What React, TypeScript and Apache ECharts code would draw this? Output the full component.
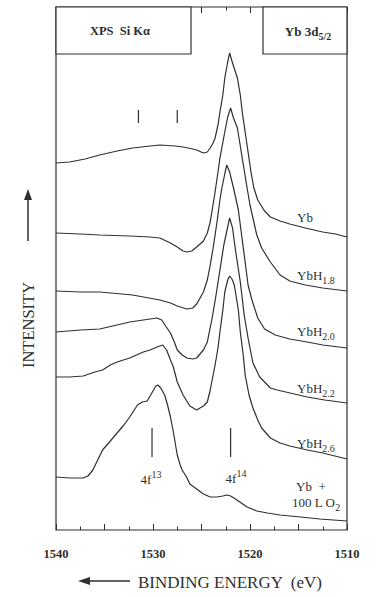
import React, { useEffect, useRef } from 'react';
import * as echarts from 'echarts';

// Binding energy (eV) vs. intensity (arb. units, offset spectra)
const ybSpectrum: [number, number][] = [
  [1540.0, 367], [1538.6, 368], [1537.0, 371], [1535.5, 375], [1533.7, 379], [1532.1, 382],
  [1530.3, 384], [1529.3, 385], [1527.7, 384], [1526.9, 383], [1525.9, 381], [1525.5, 380],
  [1524.8, 377], [1524.4, 378], [1524.1, 382], [1523.8, 387], [1523.6, 392], [1523.3, 405],
  [1523.1, 418], [1522.8, 435], [1522.6, 452], [1522.3, 468], [1522.1, 477], [1521.8, 467],
  [1521.3, 452], [1521.0, 435], [1520.8, 418], [1520.5, 398], [1520.2, 378], [1519.9, 358],
  [1519.6, 342], [1519.2, 330], [1518.5, 319], [1517.9, 313], [1516.9, 309], [1515.9, 306],
  [1514.3, 302], [1512.5, 298], [1511.2, 296], [1510.0, 293],
];
const ybH18Spectrum: [number, number][] = [
  [1540.0, 297], [1537.5, 296], [1535.5, 295], [1532.4, 294], [1530.3, 293], [1529.3, 292],
  [1528.2, 287], [1527.5, 283], [1526.9, 279], [1526.5, 278], [1526.0, 279], [1525.5, 283],
  [1524.8, 289], [1524.4, 297], [1524.1, 308], [1523.6, 338], [1523.3, 358], [1523.1, 372],
  [1522.6, 398], [1522.3, 413], [1522.0, 422], [1521.7, 412], [1521.3, 402], [1520.8, 372],
  [1520.3, 342], [1520.0, 325], [1519.7, 312], [1519.3, 295], [1518.8, 282], [1517.9, 268],
  [1516.9, 255], [1515.9, 249], [1514.3, 245], [1512.5, 242], [1510.0, 239],
];
const ybH20Spectrum: [number, number][] = [
  [1540.0, 239], [1537.5, 238], [1535.5, 238], [1532.1, 235], [1529.3, 230], [1528.2, 227],
  [1527.5, 224], [1526.5, 221], [1525.9, 222], [1525.5, 226], [1524.8, 238], [1524.4, 250],
  [1524.1, 265], [1523.8, 282], [1523.4, 308], [1523.1, 330], [1522.9, 342], [1522.6, 356],
  [1522.4, 365], [1522.1, 358], [1521.7, 342], [1521.2, 320], [1520.8, 290], [1520.5, 268],
  [1520.2, 245], [1519.8, 230], [1519.2, 212], [1518.5, 201], [1517.4, 195], [1515.9, 191],
  [1514.1, 188], [1512.5, 185], [1510.0, 182],
];
const ybH22Spectrum: [number, number][] = [
  [1540.0, 198], [1537.5, 200], [1535.5, 201], [1533.7, 205], [1532.4, 208], [1531.0, 210],
  [1529.6, 212], [1529.1, 210], [1528.7, 204], [1528.2, 197], [1527.8, 188], [1527.5, 180],
  [1527.0, 175], [1526.5, 172], [1525.9, 171], [1525.5, 172], [1524.8, 180], [1524.4, 188],
  [1523.9, 212], [1523.5, 235], [1523.1, 260], [1522.7, 285], [1522.1, 312], [1521.8, 302],
  [1521.5, 280], [1521.0, 248], [1520.6, 215], [1520.2, 192], [1519.7, 167], [1519.0, 153],
  [1517.9, 142], [1517.2, 140], [1514.1, 133], [1512.3, 130], [1510.0, 127],
];
const ybH26Spectrum: [number, number][] = [
  [1540.0, 153], [1538.6, 153], [1537.2, 154], [1536.0, 158], [1535.2, 160], [1534.4, 165],
  [1533.7, 168], [1532.4, 172], [1531.0, 178], [1530.3, 180], [1529.6, 183], [1529.0, 185],
  [1528.6, 180], [1528.2, 170], [1527.9, 163], [1527.5, 148], [1526.9, 135], [1526.2, 124],
  [1525.5, 120], [1524.8, 124], [1524.4, 128], [1524.1, 140], [1523.8, 155], [1523.6, 165],
  [1523.3, 182], [1523.1, 198], [1522.8, 220], [1522.6, 238], [1522.3, 250], [1522.1, 254],
  [1521.8, 250], [1521.6, 244], [1521.2, 220], [1521.0, 198], [1520.7, 175], [1520.5, 155],
  [1520.1, 135], [1519.7, 122], [1519.2, 110], [1518.8, 102], [1517.9, 92], [1516.9, 87],
  [1515.9, 84], [1514.1, 80], [1512.5, 77], [1510.0, 71],
];
const ybO2Spectrum: [number, number][] = [
  [1540.0, 53], [1538.6, 52], [1537.2, 52], [1536.7, 54], [1536.2, 60], [1535.7, 70],
  [1535.2, 80], [1534.4, 89], [1533.7, 97], [1533.0, 105], [1532.4, 113], [1531.6, 125],
  [1531.1, 128], [1530.6, 129], [1530.3, 134], [1530.0, 139], [1529.7, 144], [1529.5, 145],
  [1529.2, 142], [1528.8, 135], [1528.5, 125], [1528.2, 113], [1527.9, 98], [1527.5, 75],
  [1527.2, 65], [1527.0, 60], [1526.6, 54], [1526.2, 46], [1525.5, 41], [1524.8, 36],
  [1524.1, 33], [1523.4, 33], [1522.8, 34], [1522.4, 35], [1522.0, 34], [1521.5, 31],
  [1520.9, 27], [1520.3, 23], [1519.3, 19], [1518.2, 17], [1516.9, 15], [1514.8, 13],
  [1512.8, 11], [1510.0, 9],
];

const spectra = [ybSpectrum, ybH18Spectrum, ybH20Spectrum, ybH22Spectrum, ybH26Spectrum, ybO2Spectrum];

// final-state markers: binding energy, bottom, top (arb. units)
const stateMarkerEnergies = [1530.1, 1522.0];
const stateMarkerRange = [73, 102];
const ybMarkerEnergies = [1531.5, 1527.5];
const ybMarkerRange = [407, 420];

const xMin = 1510;
const xMax = 1540;
const xInterval = 5;
const yMax = 523;

const FONT = 'Liberation Serif';
const INK = '#2f2f2f';

function labelText(x: number, y: number, main: string, sub?: string, bold = false, align = 'left', size = 13) {
  const w = bold ? 'bold' : 'normal';
  return {
    type: 'text',
    x,
    y,
    z: 110,
    style: {
      text: sub ? `{m|${main}}{s|${sub}}` : `{m|${main}}`,
      align,
      verticalAlign: 'middle',
      fontFamily: FONT,
      fill: INK,
      rich: {
        m: { fontSize: size, fontFamily: FONT, fontWeight: w, fill: INK, color: INK, verticalAlign: 'top', lineHeight: size + 1 },
        s: { fontSize: size - 3, fontFamily: FONT, fontWeight: w, fill: INK, color: INK, verticalAlign: 'top', lineHeight: size - 2, padding: [6, 0, 0, 0] },
      },
    },
  };
}

function supText(x: number, y: number, main: string, sup: string) {
  return {
    type: 'text',
    x,
    y,
    z: 110,
    style: {
      text: `{m|${main}}{s|${sup}}`,
      align: 'center',
      verticalAlign: 'middle',
      fontFamily: FONT,
      fill: INK,
      rich: {
        m: { fontSize: 13, fontFamily: FONT, fill: INK, color: INK, verticalAlign: 'top', lineHeight: 14, padding: [4, 0, 0, 0] },
        s: { fontSize: 10, fontFamily: FONT, fill: INK, color: INK, verticalAlign: 'top', lineHeight: 11 },
      },
    },
  };
}

export default function App() {
  const ref = useRef<HTMLDivElement>(null);
  useEffect(() => {
    const chart = echarts.init(ref.current!, null, { renderer: 'svg' });
    const curveSeries = spectra.map((d) => ({
      type: 'line',
      data: d,
      symbol: 'none',
      showSymbol: false,
      silent: true,
      lineStyle: { color: INK, width: 1.2 },
      z: 3,
    }));
    const markerSeries = [
      ...stateMarkerEnergies.map((e) => ({
        type: 'line',
        data: [[e, stateMarkerRange[0]], [e, stateMarkerRange[1]]],
        symbol: 'none',
        silent: true,
        lineStyle: { color: INK, width: 1.2 },
      })),
      ...ybMarkerEnergies.map((e) => ({
        type: 'line',
        data: [[e, ybMarkerRange[0]], [e, ybMarkerRange[1]]],
        symbol: 'none',
        silent: true,
        lineStyle: { color: INK, width: 1.2 },
      })),
    ];
    const tickStyle = { color: INK, width: 1 };
    chart.setOption({
      animation: false,
      backgroundColor: '#ffffff',
      textStyle: { fontFamily: FONT },
      grid: { left: 56, right: 33, top: 7, bottom: 67, show: true, borderColor: INK, borderWidth: 1.2, backgroundColor: 'transparent' },
      xAxis: [
        {
          type: 'value', min: xMin, max: xMax, interval: xInterval, inverse: true, position: 'bottom',
          axisLine: { show: false }, splitLine: { show: false },
          axisTick: { show: true, inside: true, length: 6, lineStyle: tickStyle },
          minorTick: { show: true, splitNumber: 2, length: 3.5, lineStyle: tickStyle },
          axisLabel: {
            show: true, showMinLabel: true, showMaxLabel: true,
            formatter: (v: number) => (v % 10 === 0 ? String(v) : ''),
            fontFamily: FONT, fontWeight: 'bold', fontSize: 12.5, color: INK, margin: 17,
          },
        },
        {
          type: 'value', min: xMin, max: xMax, interval: xInterval, inverse: true, position: 'top',
          axisLine: { show: false }, splitLine: { show: false },
          axisTick: { show: true, inside: true, length: 6, lineStyle: tickStyle },
          minorTick: { show: true, splitNumber: 2, length: 3.5, lineStyle: tickStyle },
          axisLabel: { show: false },
        },
      ],
      yAxis: [{ type: 'value', min: 0, max: yMax, show: false }],
      series: [...curveSeries, ...markerSeries],
      graphic: [
        { type: 'rect', z: 100, shape: { x: 56, y: 7, width: 135, height: 47 }, style: { fill: '#fff', stroke: INK, lineWidth: 1.2 } },
        { type: 'rect', z: 100, shape: { x: 263, y: 7, width: 84, height: 47 }, style: { fill: '#fff', stroke: INK, lineWidth: 1.2 } },
        {
          type: 'text', x: 120, y: 31, z: 110,
          style: { text: 'XPS  Si Kα', fontFamily: FONT, fontWeight: 'bold', fontSize: 12.5, fill: INK, align: 'center', verticalAlign: 'middle' },
        },
        labelText(308, 32, 'Yb 3d', '5/2', true, 'center', 13),
        labelText(297, 218, 'Yb'),
        labelText(297, 276, 'YbH', '1.8'),
        labelText(297, 332, 'YbH', '2.0'),
        labelText(297, 389, 'YbH', '2.2'),
        labelText(297, 444, 'YbH', '2.6'),
        labelText(296, 487, 'Yb  +'),
        labelText(292, 503, '100 L O', '2'),
        supText(151, 476, '4f', '13'),
        supText(236, 475, '4f', '14'),
        {
          type: 'text', x: 28, y: 325, z: 110, rotation: Math.PI / 2,
          style: { text: 'INTENSITY', fontFamily: FONT, fontSize: 16.5, fill: INK, align: 'center', verticalAlign: 'middle' },
        },
        { type: 'line', z: 110, shape: { x1: 28, y1: 241, x2: 28, y2: 198 }, style: { stroke: INK, lineWidth: 1.5 } },
        { type: 'polygon', z: 110, shape: { points: [[28, 189], [24, 200], [32, 200]] }, style: { fill: INK } },
        {
          type: 'text', x: 230, y: 582, z: 110,
          style: { text: 'BINDING ENERGY  (eV)', fontFamily: FONT, fontSize: 17, fill: INK, align: 'center', verticalAlign: 'middle' },
        },
        { type: 'line', z: 110, shape: { x1: 88, y1: 581, x2: 130, y2: 581 }, style: { stroke: INK, lineWidth: 1.5 } },
        { type: 'polygon', z: 110, shape: { points: [[78, 581], [90, 577], [90, 585]] }, style: { fill: INK } },
      ],
    });
    return () => chart.dispose();
  }, []);
  return <div ref={ref} style={{ width: 380, height: 597, position: 'absolute', left: 0, top: 0 }} />;
}
